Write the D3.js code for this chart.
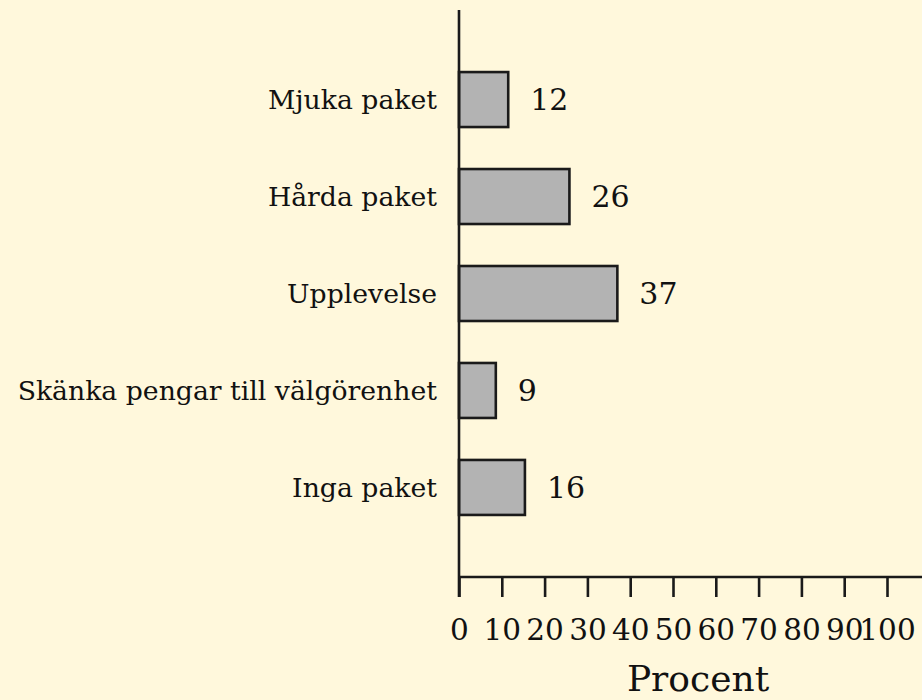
<!DOCTYPE html>
<html>
<head>
<meta charset="utf-8">
<script src="https://cdn.jsdelivr.net/npm/d3@7"></script>
<style>
html, body { margin: 0; padding: 0; background: #fff8dc; }
svg { display: block; }
text { font-family: "DejaVu Serif", serif; fill: #111; }
</style>
</head>
<body>
<svg id="chart" width="922" height="700"></svg>
<script>
const categories = ["Mjuka paket", "Hårda paket", "Upplevelse", "Skänka pengar till välgörenhet", "Inga paket"];
const values = [11.5, 25.8, 37, 8.6, 15.4];
const valueLabels = ["12", "26", "37", "9", "16"];
const xTicks = [0, 10, 20, 30, 40, 50, 60, 70, 80, 90, 100];
const xTitle = "Procent";

const svg = d3.select("#chart");
const W = 922, H = 700;
svg.append("rect").attr("width", W).attr("height", H).attr("fill", "#fff8dc");

const x0 = 459, axisY = 577;
const x = d3.scaleLinear().domain([0, 100]).range([x0, 887]);
const y = d3.scaleBand().domain(categories).range([10, axisY]).paddingInner(0.433).paddingOuter(0.64);

const stroke = "#1a1a1a";

// bars
svg.selectAll("rect.bar").data(categories).join("rect")
  .attr("class", "bar")
  .attr("x", x(0))
  .attr("y", d => y(d))
  .attr("width", (d, i) => x(values[i]) - x(0))
  .attr("height", y.bandwidth())
  .attr("fill", "#b3b3b3")
  .attr("stroke", stroke)
  .attr("stroke-width", 2.6);

// value labels
svg.selectAll("text.val").data(categories).join("text")
  .attr("class", "val")
  .attr("x", (d, i) => x(values[i]) + 22)
  .attr("y", d => y(d) + y.bandwidth() / 2)
  .attr("dy", "0.36em")
  .attr("font-size", 30)
  .text((d, i) => valueLabels[i]);

// category labels
svg.selectAll("text.cat").data(categories).join("text")
  .attr("class", "cat")
  .attr("x", 437)
  .attr("y", d => y(d) + y.bandwidth() / 2)
  .attr("dy", "0.35em")
  .attr("text-anchor", "end")
  .attr("font-size", 26.7)
  .text(d => d);

// axes lines
svg.append("line").attr("x1", x0).attr("x2", x0).attr("y1", 10).attr("y2", 597)
  .attr("stroke", stroke).attr("stroke-width", 2.6);
svg.append("line").attr("x1", x0).attr("x2", W).attr("y1", axisY).attr("y2", axisY)
  .attr("stroke", stroke).attr("stroke-width", 2.6);

// x axis ticks via d3 axis
const xAxis = d3.axisBottom(x).tickValues(xTicks).tickSize(20).tickPadding(22).tickFormat(d3.format("d"));
const gx = svg.append("g").attr("transform", `translate(0,${axisY})`).call(xAxis);
gx.select(".domain").remove();
gx.selectAll(".tick line").attr("stroke", stroke).attr("stroke-width", 2.6);
gx.selectAll(".tick text").attr("font-family", "DejaVu Serif, serif").attr("font-size", 29.5).attr("fill", "#111");

// x title
svg.append("text").attr("x", 698).attr("y", 691).attr("text-anchor", "middle")
  .attr("font-size", 36).text(xTitle);
</script>
</body>
</html>
